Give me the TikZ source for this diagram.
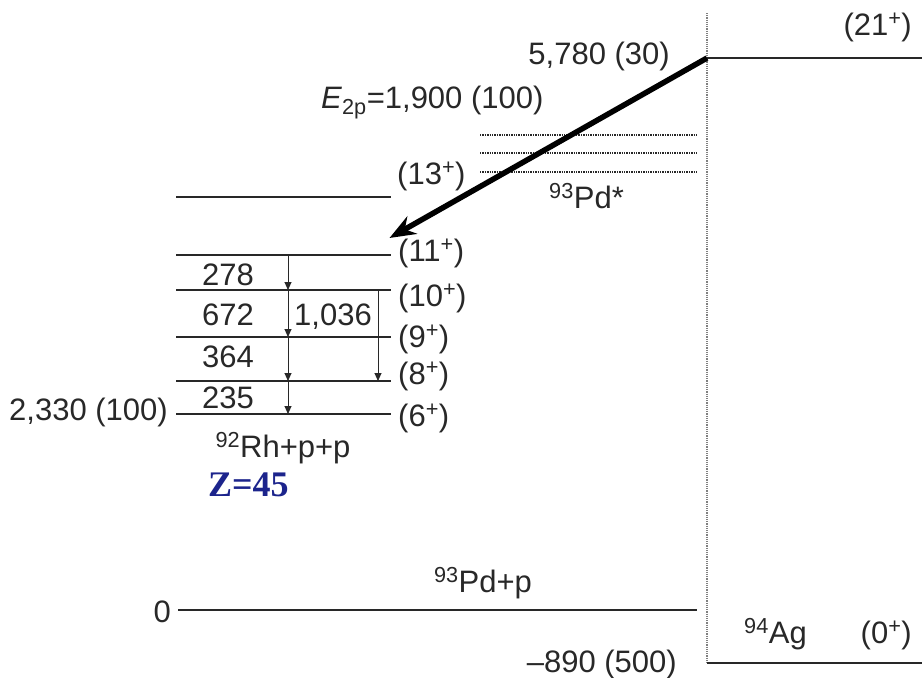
\documentclass[tikz,border=0pt]{standalone}
\usepackage{fontspec}
\setmainfont{Liberation Sans}
\newfontfamily\zfont{Liberation Serif}
\usetikzlibrary{arrows.meta}
\definecolor{zblue}{RGB}{28,36,140}
\definecolor{ink}{RGB}{40,40,40}
\begin{document}
\begin{tikzpicture}[x=1pt,y=-1pt,
  lvl/.style={line width=2.3pt, draw=ink},
  dotlvl/.style={line width=1.4pt, draw=ink, densely dotted},
  sep/.style={line width=1.2pt, draw=gray, densely dotted},
  lab/.style={font=\fontsize{31}{36}\selectfont, inner sep=0pt, text=ink},
  gam/.style={line width=0.9pt, draw=ink, -{Triangle[length=8pt,width=7pt]}},
  emit/.style={line width=5.5pt, draw=black, -{Stealth[length=26pt,width=20pt]}, shorten >=-4pt}]
\useasboundingbox (0,0) rectangle (922,678);
\fill[white] (0,0) rectangle (922,678);

% separator
\coordinate (sepT) at (707,13);
\coordinate (sepB) at (707,663);
\draw[sep] (sepT) -- (sepB);

% 94Ag levels
\coordinate (h21a) at (707,58);
\coordinate (h21b) at (922,58);
\draw[lvl] (h21a) -- (h21b);
\coordinate (h0a) at (707,663);
\coordinate (h0b) at (922,663);
\draw[lvl] (h0a) -- (h0b);
\node[lab, anchor=base east] (j21) at (912,35) {(21\textsuperscript{+})};
\node[lab, anchor=base west] (ag) at (744,643) {\textsuperscript{94}Ag};
\node[lab, anchor=base east] (j0) at (912,643) {(0\textsuperscript{+})};
\node[lab, anchor=base east] (e890) at (677,672) {\textendash890 (500)};
\node[lab, anchor=base east] (e5780) at (670,64) {5,780 (30)};

% 93Pd* dotted levels
\coordinate (d1a) at (480,135); \coordinate (d1b) at (697,135);
\coordinate (d2a) at (480,153); \coordinate (d2b) at (697,153);
\coordinate (d3a) at (480,172); \coordinate (d3b) at (697,172);
\draw[dotlvl] (d1a) -- (d1b);
\draw[dotlvl] (d2a) -- (d2b);
\draw[dotlvl] (d3a) -- (d3b);
\node[lab, anchor=base west] (pdstar) at (549,208) {\textsuperscript{93}Pd*};
\node[lab, anchor=base west] (e2p) at (321,108) {\textit{E}\textsubscript{2p}=1,900 (100)};

% 92Rh levels
\foreach \n/\y in {13/197, 11/255, 10/290, 9/337, 8/381, 6/414}{
  \coordinate (r\n a) at (176,\y);
  \coordinate (r\n b) at (391,\y);
  \draw[lvl] (r\n a) -- (r\n b);
}
\node[lab, anchor=base west] (j13) at (397,184) {(13\textsuperscript{+})};
\node[lab, anchor=base west] (j11) at (398,261) {(11\textsuperscript{+})};
\node[lab, anchor=base west] (j10) at (398,306) {(10\textsuperscript{+})};
\node[lab, anchor=base west] (j9) at (398,347) {(9\textsuperscript{+})};
\node[lab, anchor=base west] (j8) at (398,384) {(8\textsuperscript{+})};
\node[lab, anchor=base west] (j6) at (398,426) {(6\textsuperscript{+})};

\node[lab, anchor=base] (g278) at (228,285) {278};
\node[lab, anchor=base] (g672) at (228,325) {672};
\node[lab, anchor=base] (g364) at (228,367) {364};
\node[lab, anchor=base] (g235) at (228,408) {235};
\node[lab, anchor=base] (g1036) at (333,325) {1,036};

% gamma cascade
\coordinate (c11) at (288,255);
\coordinate (c10) at (288,290);
\coordinate (c9) at (288,337);
\coordinate (c8) at (288,381);
\coordinate (c6) at (288,414);
\draw[gam] (c11) -- (c10);
\draw[gam] (c10) -- (c9);
\draw[gam] (c9) -- (c8);
\draw[gam] (c8) -- (c6);
\coordinate (x10) at (378,290);
\coordinate (x8) at (378,381);
\draw[gam] (x10) -- (x8);

\node[lab, anchor=base east] (e2330) at (168,420) {2,330 (100)};
\node[lab, anchor=base] (rh) at (283,457) {\textsuperscript{92}Rh+p+p};
\node[font=\zfont\bfseries\fontsize{36}{40}\selectfont, text=zblue, inner sep=0pt, anchor=base west] (z45) at (208,496) {Z=45};

% 93Pd+p
\coordinate (p0a) at (178,610);
\coordinate (p0b) at (697,610);
\draw[lvl] (p0a) -- (p0b);
\node[lab, anchor=base east] (e0) at (171,622) {0};
\node[lab, anchor=base] (pdp) at (483,592) {\textsuperscript{93}Pd+p};

% two-proton emission
\coordinate (tip) at (393,236);
\draw[emit] (h21a) -- (tip);
\end{tikzpicture}
\end{document}
